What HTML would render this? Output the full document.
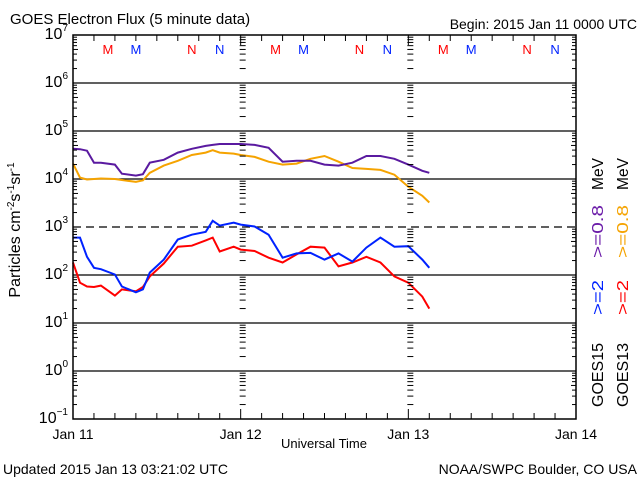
<!DOCTYPE html>
<html><head><meta charset="utf-8"><style>
html,body{margin:0;padding:0;background:#fff;}
svg{display:block;font-family:"Liberation Sans",sans-serif;}
</style></head><body>
<svg id="chart" width="640" height="480" viewBox="0 0 640 480">
<g id="grid"></g>
<g id="series"></g>
<g id="axes"></g>
<text x="10" y="24" font-size="15">GOES Electron Flux (5 minute data)</text>
<text x="637" y="29" font-size="14" text-anchor="end">Begin: 2015 Jan 11 0000 UTC</text>
<text x="324" y="448" font-size="13" text-anchor="middle">Universal Time</text>
<text x="3" y="474" font-size="14">Updated 2015 Jan 13 03:21:02 UTC</text>
<text x="637" y="474" font-size="14" text-anchor="end">NOAA/SWPC Boulder, CO USA</text>
<text transform="translate(20,230) rotate(-90)" font-size="16" text-anchor="middle">Particles cm<tspan font-size="10" dy="-6">-2</tspan><tspan dy="6">s</tspan><tspan font-size="10" dy="-6">-1</tspan><tspan dy="6">sr</tspan><tspan font-size="10" dy="-6">-1</tspan></text>
<g font-size="16">
<text transform="translate(603,407) rotate(-90)" textLength="64" lengthAdjust="spacingAndGlyphs">GOES15</text>
<text transform="translate(628,407) rotate(-90)" textLength="64" lengthAdjust="spacingAndGlyphs">GOES13</text>
<text transform="translate(603,315) rotate(-90)" textLength="35" lengthAdjust="spacingAndGlyphs" fill="#0022ff">&gt;=2</text>
<text transform="translate(628,315) rotate(-90)" textLength="35" lengthAdjust="spacingAndGlyphs" fill="#ff0000">&gt;=2</text>
<text transform="translate(603,258) rotate(-90)" fill="#6a1aa8" textLength="53" lengthAdjust="spacingAndGlyphs">&gt;=0.8</text>
<text transform="translate(628,258) rotate(-90)" fill="#f5a300" textLength="53" lengthAdjust="spacingAndGlyphs">&gt;=0.8</text>
<text transform="translate(603,190) rotate(-90)" textLength="32" lengthAdjust="spacingAndGlyphs">MeV</text>
<text transform="translate(628,190) rotate(-90)" textLength="32" lengthAdjust="spacingAndGlyphs">MeV</text>
</g>
</svg>
<script>
const hours = [0,1,2,3,4,6,7,9,10,11,13,15,17,19,20,21,23,24,26,28,30,32,34,36,38,40,42,44,46,48,50,51];
const g15_08_log = [4.63,4.62,4.59,4.34,4.34,4.30,4.11,4.07,4.10,4.34,4.40,4.55,4.63,4.69,4.71,4.73,4.73,4.73,4.71,4.65,4.36,4.38,4.38,4.30,4.28,4.34,4.48,4.48,4.42,4.30,4.17,4.13];
const g13_08_log = [4.32,4.03,3.99,4.00,4.01,4.00,3.98,3.94,3.97,4.13,4.28,4.38,4.50,4.55,4.60,4.55,4.53,4.50,4.46,4.36,4.30,4.32,4.42,4.48,4.36,4.23,4.21,4.19,4.09,3.84,3.65,3.51];
const g15_2_log = [2.78,2.78,2.38,2.15,2.12,2.01,1.76,1.64,1.70,2.05,2.32,2.74,2.84,2.90,3.13,3.03,3.09,3.05,3.01,2.84,2.36,2.45,2.46,2.32,2.45,2.28,2.57,2.78,2.59,2.60,2.32,2.15];
const g13_2_log = [2.26,1.84,1.76,1.75,1.78,1.57,1.70,1.66,1.75,1.97,2.24,2.59,2.61,2.72,2.78,2.49,2.59,2.53,2.50,2.36,2.26,2.43,2.59,2.57,2.18,2.26,2.38,2.26,1.97,1.84,1.55,1.30];
const dayLabels = ["Jan 11","Jan 12","Jan 13","Jan 14"];
const yExps = [7,6,5,4,3,2,1,0,-1];
const markerHours = [5,9,17,21];
const markerText = ["M","M","N","N"];
const markerColors = ["#ff0000","#0022ff","#ff0000","#0022ff"];

const NS="http://www.w3.org/2000/svg";
const L=73,R=576,T=35,B=419;
const xS=h=>L+(R-L)*h/72;
const yS=lg=>T+(7-lg)*(B-T)/8;
function mk(tag,attrs,parent){const e=document.createElementNS(NS,tag);for(const k in attrs)e.setAttribute(k,attrs[k]);parent.appendChild(e);return e;}
const grid=document.getElementById('grid'),axes=document.getElementById('axes'),ser=document.getElementById('series');

yExps.forEach(ex=>{
  if(ex===7||ex===-1)return;
  const y=yS(ex);
  const ln=mk('line',{x1:L,x2:R,y1:y,y2:y,stroke:'#000','stroke-width':1.3},grid);
  if(ex===3)ln.setAttribute('stroke-dasharray','8,5');
  
  
});
for(let ex=-1;ex<7;ex++){
  for(let m=2;m<=9;m++){
    const y=yS(ex+Math.log10(m));
    const len=(m===5)?5:4;
    mk('line',{x1:L,x2:L+len,y1:y,y2:y,stroke:'#000'},axes);
    mk('line',{x1:R-len,x2:R,y1:y,y2:y,stroke:'#000'},axes);
    [24,48].forEach(h=>{const x=xS(h);mk('line',{x1:x-1,x2:x+5,y1:y,y2:y,stroke:'#000'},axes);});
  }
}
const fr=mk('rect',{x:L,y:T,width:R-L,height:B-T,fill:'none',stroke:'#000','stroke-width':1.5},axes);


for(let h=3;h<72;h+=3){const x=xS(h);const len=(h%24===0)?10:6;
  mk('line',{x1:x,x2:x,y1:B,y2:B-len,stroke:'#000'},axes);
  mk('line',{x1:x,x2:x,y1:T,y2:T+len,stroke:'#000'},axes);}
dayLabels.forEach((d,i)=>{
  const t=mk('text',{x:xS(i*24),y:439,'font-size':14,'text-anchor':'middle'},axes);
  t.textContent=d;
  
  
});
yExps.forEach(ex=>{
  const t=mk('text',{x:L-5,y:yS(ex)+4,'font-size':16,'text-anchor':'end'},axes);
  t.textContent='10';
  const s=mk('tspan',{'font-size':10,dy:-8},t);s.textContent=ex<0?'\u2212'+(-ex):String(ex);
  
  
});
for(let d=0;d<3;d++){markerHours.forEach((h,i)=>{
  const t=mk('text',{x:xS(h+24*d),y:54,'font-size':13,'text-anchor':'middle',fill:markerColors[i]},axes);
  t.textContent=markerText[i];
  
  
});}
function line(vals,color,name){
  let d='';
  vals.forEach((v,i)=>{const x=xS(hours[i]),y=yS(v);d+=(i?'L':'M')+x.toFixed(1)+','+y.toFixed(1);});
  const p=mk('path',{d:d,fill:'none',stroke:color,'stroke-width':2,'stroke-linejoin':'miter'},ser);
  
  
}
line(g13_08_log,'#f5a300','series-goes13-0.8mev');
line(g15_08_log,'#5a1aa0','series-goes15-0.8mev');
line(g13_2_log,'#ff0000','series-goes13-2mev');
line(g15_2_log,'#0022ff','series-goes15-2mev');
</script>
</body></html>
